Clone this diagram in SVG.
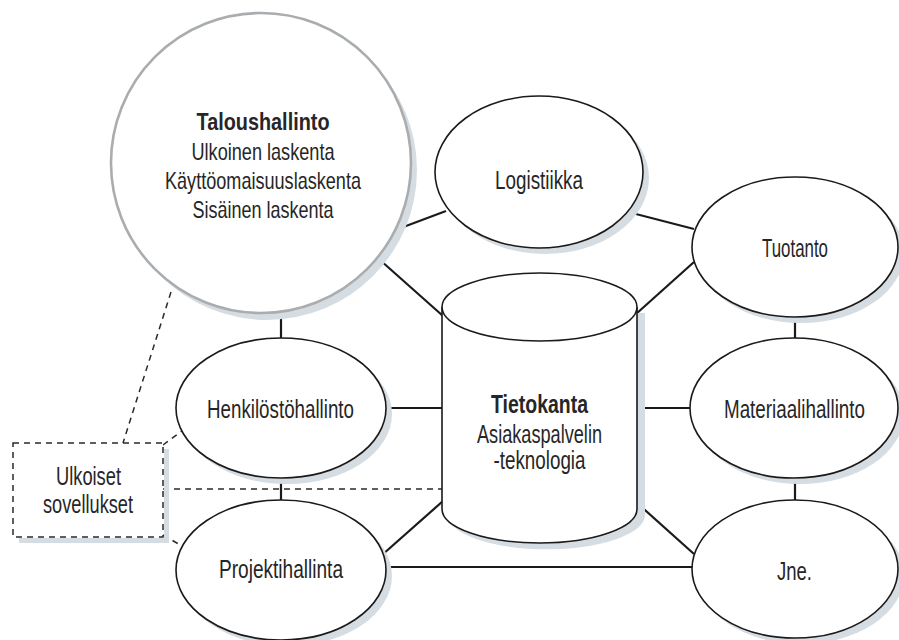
<svg xmlns="http://www.w3.org/2000/svg" width="899" height="640" viewBox="0 0 899 640">
  <style>
    .bg { fill: #ffffff; }
    .node { fill: #ffffff; stroke: #1a1a1a; stroke-width: 1.6; }
    .big { fill: #ffffff; stroke: #a9adb0; stroke-width: 2.6; }
    .shadow { fill: #d6dde2; stroke: none; }
    .link { stroke: #1a1a1a; stroke-width: 2.2; fill: none; }
    .dash { stroke: #2a2a2a; stroke-width: 1.5; fill: none; stroke-dasharray: 6 5; }
    .lbl { font-family: "Liberation Sans", Arial, sans-serif; font-size: 25px; fill: #262626; text-anchor: middle; }
    .bold { font-weight: bold; }
    .sm { font-size: 24px; }
  </style>

  <rect class="bg" x="0" y="0" width="899" height="640"/>

  <!-- connectors -->
  <g id="connectors">
    <line class="link" x1="281" y1="312" x2="281" y2="340"/>
    <line class="link" x1="398" y1="229" x2="446" y2="211"/>
    <line class="link" x1="380" y1="260" x2="443" y2="316"/>
    <line class="link" x1="632" y1="213" x2="694" y2="229"/>
    <line class="link" x1="694" y1="262" x2="636" y2="314"/>
    <line class="link" x1="795" y1="315" x2="795" y2="340"/>
    <line class="link" x1="795" y1="476" x2="795" y2="502"/>
    <line class="link" x1="636" y1="408" x2="692" y2="408"/>
    <line class="link" x1="385" y1="408" x2="443" y2="408"/>
    <line class="link" x1="281" y1="476" x2="281" y2="502"/>
    <line class="link" x1="382" y1="555" x2="443" y2="501"/>
    <line class="link" x1="385" y1="567" x2="694" y2="567"/>
    <line class="link" x1="636" y1="502" x2="694" y2="554"/>
    <!-- dashed links of the external applications box -->
    <line class="dash" x1="171" y1="292" x2="123" y2="443"/>
    <line class="dash" x1="163" y1="445" x2="182" y2="431"/>
    <line class="dash" x1="163" y1="535" x2="182" y2="546"/>
    <line class="dash" x1="163" y1="489" x2="443" y2="489"/>
  </g>

  <!-- financial management: large circle -->
  <g id="taloushallinto">
    <circle class="shadow" cx="267" cy="170" r="150"/>
    <circle class="big" cx="261" cy="163" r="150"/>
    <text class="lbl sm bold" x="263" y="130" textLength="133" lengthAdjust="spacingAndGlyphs">Taloushallinto</text>
    <text class="lbl sm" x="263" y="160" textLength="143" lengthAdjust="spacingAndGlyphs">Ulkoinen laskenta</text>
    <text class="lbl sm" x="263" y="189" textLength="196" lengthAdjust="spacingAndGlyphs">Käyttöomaisuuslaskenta</text>
    <text class="lbl sm" x="263" y="218" textLength="141" lengthAdjust="spacingAndGlyphs">Sisäinen laskenta</text>
  </g>

  <g id="logistiikka">
    <ellipse class="shadow" cx="545" cy="178" rx="104" ry="76"/>
    <ellipse class="node" cx="539" cy="172" rx="104" ry="76"/>
    <text class="lbl" x="539" y="189" textLength="88" lengthAdjust="spacingAndGlyphs">Logistiikka</text>
  </g>

  <g id="tuotanto">
    <ellipse class="shadow" cx="801" cy="253" rx="103" ry="70"/>
    <ellipse class="node" cx="795" cy="247" rx="103" ry="70"/>
    <text class="lbl" x="795" y="257" textLength="66" lengthAdjust="spacingAndGlyphs">Tuotanto</text>
  </g>

  <g id="materiaalihallinto">
    <ellipse class="shadow" cx="800" cy="414" rx="104" ry="70"/>
    <ellipse class="node" cx="794" cy="408" rx="104" ry="70"/>
    <text class="lbl" x="794.5" y="418" textLength="141" lengthAdjust="spacingAndGlyphs">Materiaalihallinto</text>
  </g>

  <g id="jne">
    <ellipse class="shadow" cx="801" cy="575" rx="103" ry="69"/>
    <ellipse class="node" cx="795" cy="569" rx="103" ry="69"/>
    <text class="lbl" x="794.5" y="580" textLength="35" lengthAdjust="spacingAndGlyphs">Jne.</text>
  </g>

  <g id="henkilostohallinto">
    <ellipse class="shadow" cx="287" cy="414" rx="105" ry="70"/>
    <ellipse class="node" cx="281" cy="408" rx="105" ry="70"/>
    <text class="lbl" x="280.5" y="418" textLength="147" lengthAdjust="spacingAndGlyphs">Henkilöstöhallinto</text>
  </g>

  <g id="projektihallinta">
    <ellipse class="shadow" cx="287" cy="576" rx="105" ry="70"/>
    <ellipse class="node" cx="281" cy="570" rx="105" ry="70"/>
    <text class="lbl" x="281" y="578" textLength="124" lengthAdjust="spacingAndGlyphs">Projektihallinta</text>
  </g>

  <!-- database cylinder -->
  <g id="tietokanta">
    <path class="shadow" d="M 448 313 L 645 313 L 645 515 A 97.5 34 0 0 1 448 515 Z"/>
    <path class="node" d="M 442 307 L 442 509 A 97.5 34 0 0 0 637 509 L 637 307"/>
    <ellipse class="node" cx="539.5" cy="307" rx="97.5" ry="34"/>
    <text class="lbl bold" x="539.5" y="413" textLength="97" lengthAdjust="spacingAndGlyphs">Tietokanta</text>
    <text class="lbl" x="539.5" y="443" textLength="125" lengthAdjust="spacingAndGlyphs">Asiakaspalvelin</text>
    <text class="lbl" x="539.5" y="469" textLength="92" lengthAdjust="spacingAndGlyphs">-teknologia</text>
  </g>

  <!-- external applications -->
  <g id="ulkoiset-sovellukset">
    <path class="shadow" d="M 164 449 L 169 449 L 169 543 L 19 543 L 19 538 L 164 538 Z"/>
    <rect x="13" y="443" width="150" height="94" fill="#ffffff" stroke="#2a2a2a" stroke-width="1.5" stroke-dasharray="6 5"/>
    <text class="lbl" x="88.5" y="485" textLength="65" lengthAdjust="spacingAndGlyphs">Ulkoiset</text>
    <text class="lbl" x="88" y="513" textLength="90" lengthAdjust="spacingAndGlyphs">sovellukset</text>
  </g>
</svg>
